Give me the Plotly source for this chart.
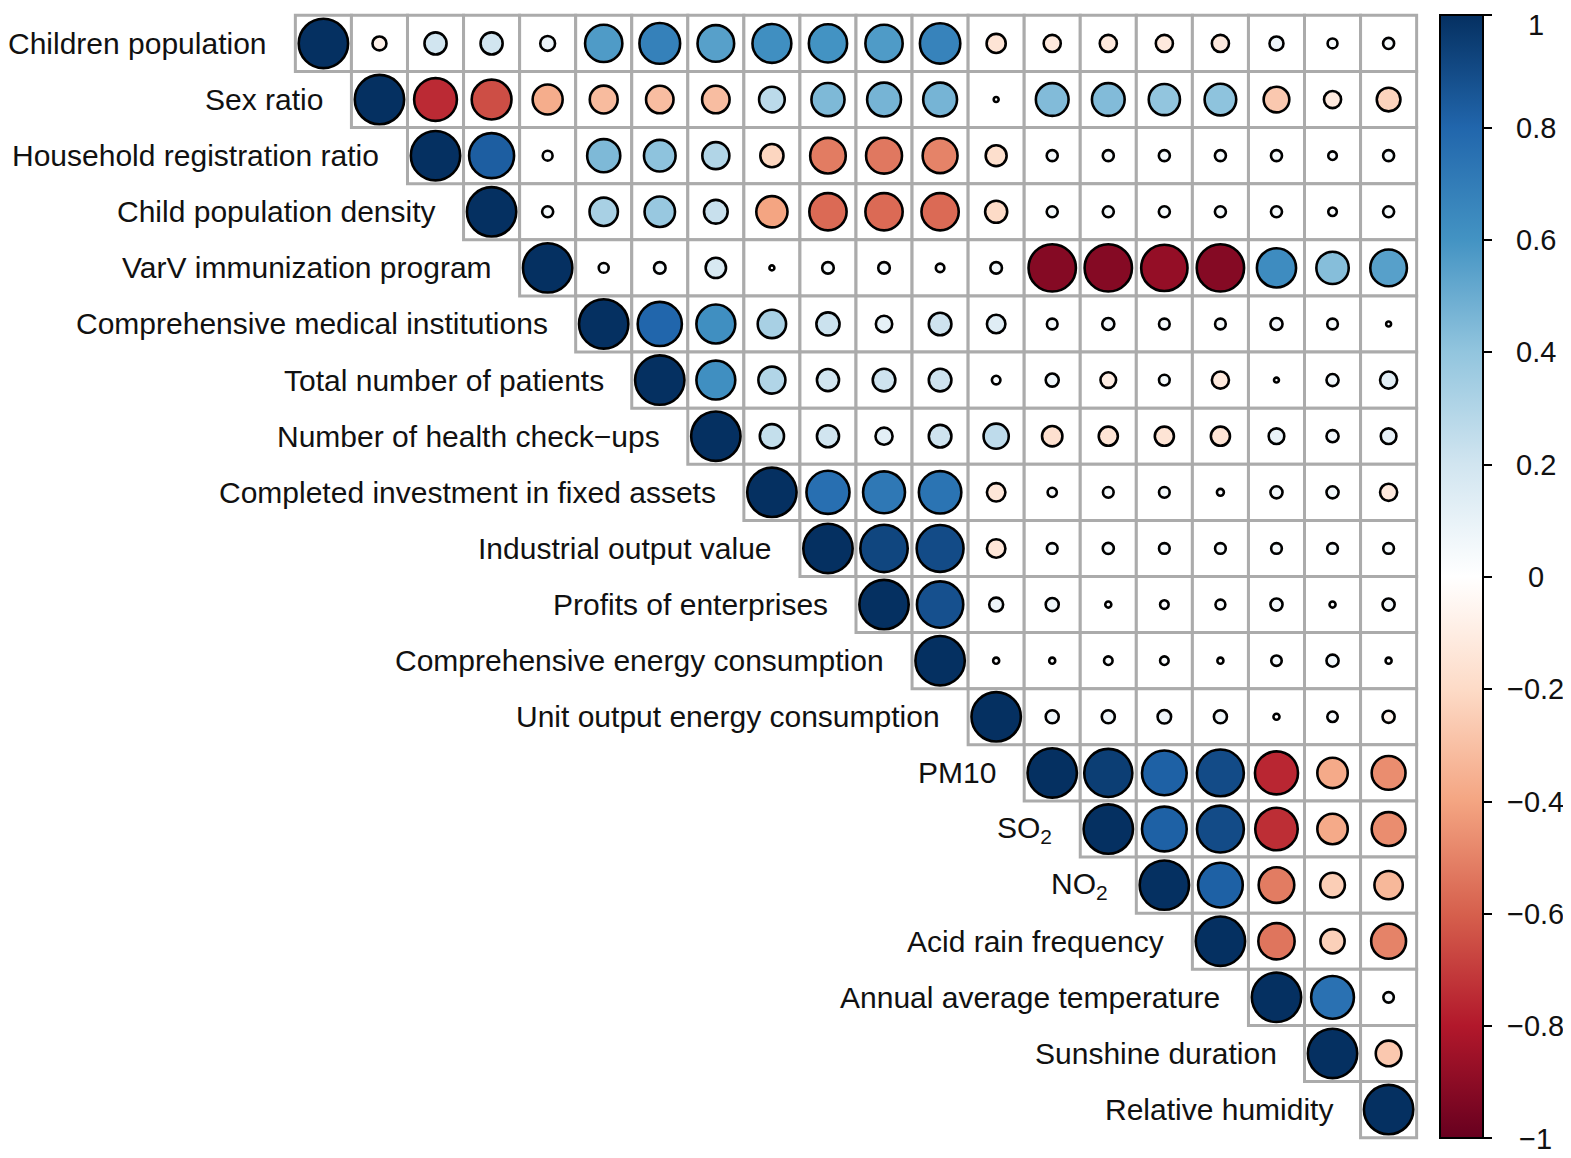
import numpy as np
import plotly.graph_objects as go

# ---------------- data ----------------
labels = [
    "Children population", "Sex ratio", "Household registration ratio",
    "Child population density", "VarV immunization program",
    "Comprehensive medical institutions", "Total number of patients",
    "Number of health check\u2212ups", "Completed investment in fixed assets",
    "Industrial output value", "Profits of enterprises",
    "Comprehensive energy consumption", "Unit output energy consumption",
    "PM10", "SO<sub>2</sub>", "NO<sub>2</sub>", "Acid rain frequency",
    "Annual average temperature", "Sunshine duration", "Relative humidity",
]

# upper-triangle rows, each starting at the diagonal
row_00 = [1, -0.08, 0.2, 0.2, 0.09, 0.57, 0.68, 0.55, 0.62, 0.6, 0.57, 0.67, -0.15, -0.12, -0.12, -0.12, -0.12, 0.08, 0.04, 0.05]
row_01 = [1, -0.75, -0.65, -0.37, -0.32, -0.31, -0.31, 0.27, 0.45, 0.47, 0.47, 0.01, 0.44, 0.44, 0.4, 0.41, -0.27, -0.12, -0.23]
row_02 = [1, 0.83, 0.04, 0.45, 0.41, 0.3, -0.22, -0.52, -0.53, -0.5, -0.18, 0.05, 0.05, 0.05, 0.05, 0.05, 0.03, 0.05]
row_03 = [1, 0.05, 0.33, 0.38, 0.23, -0.4, -0.57, -0.57, -0.57, -0.2, 0.05, 0.05, 0.05, 0.05, 0.05, 0.03, 0.05]
row_04 = [1, 0.04, 0.055, 0.17, 0.01, 0.055, 0.055, 0.03, 0.055, -0.92, -0.92, -0.88, -0.92, 0.63, 0.43, 0.55]
row_05 = [1, 0.8, 0.62, 0.33, 0.22, 0.11, 0.21, 0.14, 0.047, 0.06, 0.047, 0.047, 0.06, 0.047, 0.01]
row_06 = [1, 0.62, 0.3, 0.2, 0.21, 0.21, 0.03, 0.07, -0.1, 0.047, -0.12, 0.01, 0.06, 0.12]
row_07 = [1, 0.24, 0.2, 0.12, 0.21, 0.26, -0.17, -0.15, -0.15, -0.15, 0.1, 0.06, 0.1]
row_08 = [1, 0.76, 0.72, 0.74, -0.14, 0.035, 0.047, 0.047, 0.02, 0.06, 0.06, -0.12]
row_09 = [1, 0.92, 0.9, -0.14, 0.047, 0.05, 0.047, 0.047, 0.047, 0.047, 0.047]
row_10 = [1, 0.88, 0.08, 0.07, 0.015, 0.03, 0.04, 0.06, 0.015, 0.06]
row_11 = [1, 0.015, 0.015, 0.03, 0.03, 0.015, 0.045, 0.06, 0.015]
row_12 = [1, 0.07, 0.07, 0.075, 0.07, 0.015, 0.045, -0.06]
row_13 = [1, 0.95, 0.82, 0.9, -0.76, -0.38, -0.47]
row_14 = [1, 0.82, 0.9, -0.74, -0.38, -0.47]
row_15 = [1, 0.82, -0.52, -0.25, -0.33]
row_16 = [1, -0.54, -0.24, -0.5]
row_17 = [1, 0.75, 0.045]
row_18 = [1, -0.27]
row_19 = [1]

rows = [row_00, row_01, row_02, row_03, row_04, row_05, row_06, row_07, row_08, row_09,
        row_10, row_11, row_12, row_13, row_14, row_15, row_16, row_17, row_18, row_19]

cbar_tickvals = [1, 0.8, 0.6, 0.4, 0.2, 0, -0.2, -0.4, -0.6, -0.8, -1]
cbar_ticktext = ["1", "0.8", "0.6", "0.4", "0.2", "0", "\u22120.2", "\u22120.4", "\u22120.6", "\u22120.8", "\u22121"]

rdbu = ["#67001F", "#B2182B", "#D6604D", "#F4A582", "#FDDBC7", "#FFFFFF",
        "#D1E5F0", "#92C5DE", "#4393C3", "#2166AC", "#053061"]

# ---------------- geometry ----------------
W, H = 1571, 1158
off = 8  # page body margin in the browser
n = len(labels)
grid_left, grid_right = 295 - off, 1417 - off
grid_top, grid_bottom = 15 - off, 1138 - off
cell_w = (grid_right - grid_left) / n
cell_h = (grid_bottom - grid_top) / n
pad = 0.06
m_l = grid_left - pad * cell_w
m_r = W - (grid_right + pad * cell_w)
m_t = grid_top - pad * cell_h
m_b = H - (grid_bottom + pad * cell_h)
plot_w = W - m_l - m_r
plot_h = H - m_t - m_b

xs, ys, vs = [], [], []
for i, r in enumerate(rows):
    for k, v in enumerate(r):
        xs.append(i + k)
        ys.append(i)
        vs.append(v)
vs = np.array(vs, dtype=float)
cell_px = min(cell_w, cell_h)
sizes = 0.88 * cell_px * np.sqrt(np.abs(vs))

colorscale = [[k / (len(rdbu) - 1), c] for k, c in enumerate(rdbu)]

# colorbar geometry
cb_top_px, cb_bot_px = 15 - off, 1139 - off
cb_left_px, cb_thick = 1440 - off, 43
cb_len = (cb_bot_px - cb_top_px) / plot_h
cb_yc = 1 - (((cb_top_px + cb_bot_px) / 2) - m_t) / plot_h
cb_x = (cb_left_px - m_l) / plot_w

fig = go.Figure()
fig.add_trace(go.Scatter(
    x=xs, y=ys, mode="markers", hoverinfo="skip", showlegend=False,
    cliponaxis=False,
    marker=dict(
        size=sizes, color=vs, colorscale=colorscale, cmin=-1, cmax=1,
        line=dict(color="black", width=2.6), opacity=1,
        showscale=True,
        colorbar=dict(
            x=cb_x, xanchor="left", xpad=0, ypad=0,
            y=cb_yc, yanchor="middle", len=cb_len, lenmode="fraction",
            thickness=cb_thick, thicknessmode="pixels",
            outlinewidth=2, outlinecolor="black",
            tickmode="array", tickvals=cbar_tickvals,
            ticks="outside", ticklen=8, tickwidth=2, tickcolor="black",
            showticklabels=False,
        ),
    ),
))

# grid cells (upper triangle)
shapes = []
for i in range(n):
    for j in range(i, n):
        shapes.append(dict(
            type="rect", xref="x", yref="y", layer="below",
            x0=j - 0.5, x1=j + 0.5, y0=i - 0.5, y1=i + 0.5,
            line=dict(color="#ababab", width=3), fillcolor="white",
        ))

annotations = []
for i, lab in enumerate(labels):
    annotations.append(dict(
        x=i - 0.5, y=i, xref="x", yref="y", text=lab, showarrow=False,
        xanchor="right", yanchor="middle", xshift=-26,
        font=dict(family="Arial, Liberation Sans, sans-serif", size=30, color="#111111"),
    ))

# colorbar labels, centered
lab_x = (1536 - off - m_l) / plot_w
cb_y0 = cb_yc - cb_len / 2
for v, t in zip(cbar_tickvals, cbar_ticktext):
    is_top = v == max(cbar_tickvals)
    annotations.append(dict(
        x=lab_x, y=cb_y0 + (v + 1) / 2 * cb_len, xref="paper", yref="paper",
        text=t, showarrow=False, xanchor="center",
        yanchor="top" if is_top else "middle",
        yshift=cb_top_px if is_top else 0,
        borderpad=0,
        font=dict(family="Arial, Liberation Sans, sans-serif", size=29, color="#111111"),
    ))

fig.update_layout(
    width=W, height=H,
    margin=dict(l=m_l, r=m_r, t=m_t, b=m_b, pad=0, autoexpand=False),
    paper_bgcolor="white", plot_bgcolor="white",
    xaxis=dict(range=[-0.5 - pad, n - 0.5 + pad], visible=False, fixedrange=True),
    yaxis=dict(range=[n - 0.5 + pad, -0.5 - pad], visible=False, fixedrange=True),
    shapes=shapes, annotations=annotations,
)

fig.write_html("out.html")
